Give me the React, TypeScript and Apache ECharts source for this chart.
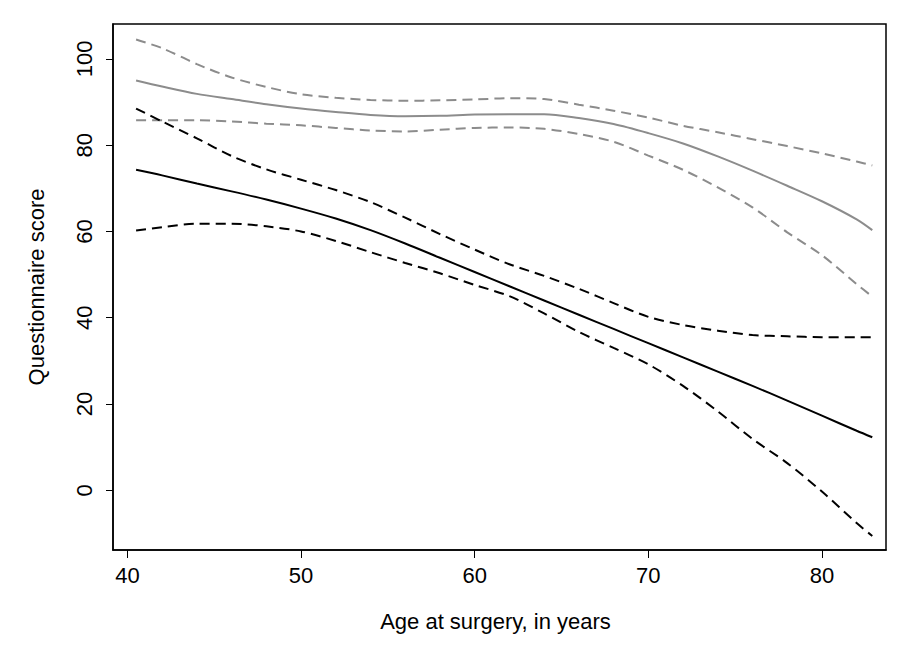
import React, { useEffect, useRef } from "react";
import * as echarts from "echarts";

const ages = [40.5, 42, 44, 46, 48, 50, 52, 54, 56, 58, 60, 62, 64, 66, 68, 70, 72, 74, 76, 78, 80, 82, 82.9];

const grayUpper = [104.5, 102.5, 98.8, 95.7, 93.5, 91.8, 91.0, 90.5, 90.3, 90.4, 90.6, 90.9, 90.7, 89.4, 88.0, 86.4, 84.5, 83.0, 81.4, 79.8, 78.1, 76.2, 75.3];
const grayMid = [95.0, 93.6, 91.9, 90.7, 89.5, 88.5, 87.7, 87.0, 86.7, 86.8, 87.1, 87.2, 87.2, 86.3, 84.9, 82.8, 80.4, 77.4, 74.1, 70.6, 67.0, 62.8, 60.3];
const grayLower = [85.8, 85.8, 85.8, 85.5, 85.0, 84.6, 84.0, 83.4, 83.2, 83.6, 84.0, 84.1, 83.8, 82.6, 80.8, 77.6, 74.3, 70.2, 65.6, 59.8, 54.5, 47.8, 44.9];

const blackUpper = [88.5, 85.5, 81.6, 77.5, 74.4, 72.0, 69.6, 66.8, 63.2, 59.4, 55.8, 52.4, 49.7, 46.7, 43.4, 40.2, 38.3, 37.0, 36.0, 35.7, 35.5, 35.5, 35.5];
const blackMid = [74.3, 73.0, 71.1, 69.3, 67.4, 65.3, 63.0, 60.3, 57.2, 53.9, 50.6, 47.3, 44.0, 40.7, 37.4, 34.1, 30.8, 27.5, 24.2, 20.8, 17.3, 13.8, 12.3];
const blackLower = [60.2, 61.0, 61.8, 61.8, 61.2, 60.0, 57.8, 55.2, 52.7, 50.3, 47.6, 45.0, 41.0, 36.7, 33.0, 29.2, 24.2, 18.3, 11.9, 6.3, -0.3, -7.6, -10.6];

const xTicks = [40, 50, 60, 70, 80];
const yTicks = [0, 20, 40, 60, 80, 100];

const GRAY = "#8c8c8c";
const FONT = 'Arial, "Liberation Sans", sans-serif';

function pairs(ys: number[]) {
  return ages.map((a, i) => [a, ys[i]]);
}

export default function App() {
  const ref = useRef<HTMLDivElement>(null);
  useEffect(() => {
    if (!ref.current) return;
    const chart = echarts.init(ref.current, undefined, { renderer: "svg" });
    const mk = (name: string, ys: number[], color: string, dashed: boolean) => ({
      name,
      type: "line",
      data: pairs(ys),
      smooth: 0.3,
      showSymbol: false,
      symbol: "none",
      lineStyle: { color, width: 2, type: dashed ? [10, 6] : "solid" },
      silent: true,
    });
    chart.setOption({
      animation: false,
      backgroundColor: "#ffffff",
      grid: {
        left: 113,
        top: 24,
        right: 25,
        bottom: 113,
        show: true,
        borderColor: "#000",
        borderWidth: 1.5,
        backgroundColor: "transparent",
      },
      xAxis: {
        type: "value",
        min: 39.17,
        max: 83.69,
        name: "Age at surgery, in years",
        nameLocation: "middle",
        nameGap: 60,
        nameTextStyle: { fontFamily: FONT, fontSize: 22, color: "#000", padding: [0, 8, 0, 0] },
        axisLine: { show: true, onZero: false, lineStyle: { color: "#000", width: 1.5 } },
        axisTick: { show: true, customValues: xTicks, length: 8, lineStyle: { color: "#000", width: 1 } },
        axisLabel: { customValues: xTicks, fontFamily: FONT, fontSize: 22, color: "#000", margin: 14 },
        splitLine: { show: false },
      },
      yAxis: {
        type: "value",
        min: -13.85,
        max: 108.1,
        name: "Questionnaire score",
        nameLocation: "middle",
        nameGap: 66,
        nameRotate: 90,
        nameTextStyle: { fontFamily: FONT, fontSize: 22, color: "#000" },
        axisLine: { show: true, onZero: false, lineStyle: { color: "#000", width: 1.5 } },
        axisTick: { show: true, customValues: yTicks, length: 7, lineStyle: { color: "#000", width: 1 } },
        axisLabel: { customValues: yTicks, rotate: 90, fontFamily: FONT, fontSize: 22, color: "#000", margin: 18 },
        splitLine: { show: false },
      },
      series: [
        mk("gray upper", grayUpper, GRAY, true),
        mk("gray mid", grayMid, GRAY, false),
        mk("gray lower", grayLower, GRAY, true),
        mk("black upper", blackUpper, "#000", true),
        mk("black mid", blackMid, "#000", false),
        mk("black lower", blackLower, "#000", true),
      ],
    });
    return () => chart.dispose();
  }, []);
  return <div ref={ref} style={{ width: 911, height: 663, position: "absolute", left: 0, top: 0 }} />;
}
